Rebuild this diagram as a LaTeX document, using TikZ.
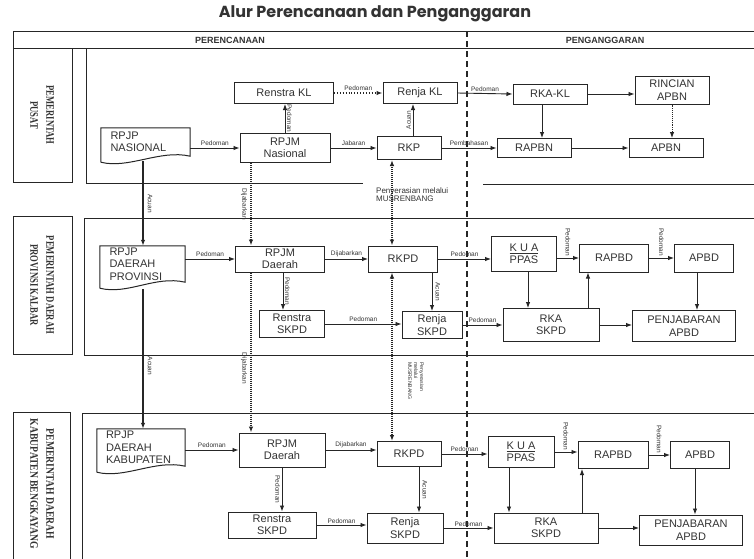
\documentclass[tikz,border=0pt]{standalone}
\usepackage{fontspec}
\setmainfont{Liberation Sans}
\newfontfamily\titlefont{Poppins}
\newfontfamily\rowfont[FakeStretch=0.75]{Liberation Serif}
\usetikzlibrary{arrows.meta,calc}
\definecolor{ink}{HTML}{262626}
\definecolor{txt}{HTML}{333333}
\newcommand\mydocshape[1]{%
  \draw[frame] ($(#1.south west)+(0,6)$) -- (#1.north west) -- (#1.north east) -- (#1.south east)
    .. controls ($(#1.south east)+(-30,-7)$) and ($(#1.south west)+(28,13)$) .. ($(#1.south west)+(0,6)$);}
\begin{document}
\begin{tikzpicture}[x=1pt,y=-1pt,
  frame/.style={draw=ink,line width=1pt},
  box/.style={draw=ink,line width=1pt,rectangle,inner sep=1pt,align=center,text=txt,font=\fontsize{11}{12.5}\selectfont},
  docbox/.style={draw=none,rectangle,inner sep=0pt,align=left,text=txt,font=\fontsize{11}{12.5}\selectfont},
  arr/.style={draw=ink,line width=0.9pt,-{Latex[length=6pt,width=4.5pt]}},
  thickarr/.style={arr,line width=1.7pt},
  darr/.style={arr,line width=1.7pt,dash pattern=on 1pt off 1pt},
  ddarr/.style={darr,{Latex[length=6pt,width=4.5pt]}-{Latex[length=6pt,width=4.5pt]}},
  lab/.style={font=\fontsize{6.5}{7}\selectfont,text=txt,inner sep=1.5pt},
  rowlab/.style={font=\rowfont\bfseries\fontsize{11.5}{16}\selectfont,text=txt,align=center,rotate=-90},
  hdr/.style={font=\bfseries\fontsize{9}{10}\selectfont,text=txt},
]
\useasboundingbox (0,0) rectangle (754,558);
\fill[white] (0,0) rectangle (754,558);

% title and header
\node[font=\titlefont\bfseries\fontsize{16}{18}\selectfont,text=txt] (title) at (375,14) {Alur Perencanaan dan Penganggaran};
\draw[frame] (754,31) -- (13,31) -- (13,48) -- (754,48);
\node[hdr] (hp) at (230,40) {PERENCANAAN};
\node[hdr] (hg) at (605,40) {PENGANGGARAN};

% row frames
\draw[frame] (13,48) rectangle (72,182);
\draw[frame] (86,48) -- (86,183) -- (363,183);
\draw[frame] (483,184) -- (754,184);
\draw[frame] (13,216) rectangle (72,354);
\draw[frame] (754,218) -- (84,218) -- (84,355) -- (754,355);
\draw[frame] (13,562) -- (13,412) -- (70,412) -- (70,562);
\draw[frame] (754,413) -- (82,413) -- (82,562);

% divider
\draw[ink,line width=2.3pt,dash pattern=on 6pt off 4pt] (467,31) -- (467,558);

% row labels
\node[rowlab] (lab1) at (42,115) {PEMERINTAH\\PUSAT};
\node[rowlab] (lab2) at (42,285) {PEMERINTAH DAERAH\\PROVINSI KALBAR};
\node[rowlab,xscale=1.12] (lab3) at (42,484) {PEMERINTAH DAERAH\\KABUPATEN BENGKAYANG};

% ---------- row 1 ----------
\node[box,minimum width=99pt,minimum height=21pt] (renstrakl) at (284,93) {Renstra KL};
\node[docbox,minimum width=89pt,minimum height=28pt,text width=70pt] (rpjpnas) at (145.5,142) {RPJP\\NASIONAL};
\mydocshape{rpjpnas}
\node[box,minimum width=90pt,minimum height=29pt] (rpjmnas) at (285,148) {RPJM\\Nasional};
\node[box,minimum width=74pt,minimum height=21pt] (renjakl) at (420,93) {Renja KL};
\node[box,minimum width=64pt,minimum height=23pt] (rkp) at (409,148) {RKP};
\node[box,minimum width=74pt,minimum height=20pt] (rkakl) at (550,94) {RKA-KL};
\node[box,minimum width=74pt,minimum height=28pt] (rincian) at (672,90) {RINCIAN\\APBN};
\node[box,minimum width=74pt,minimum height=19pt] (rapbn) at (534,148) {RAPBN};
\node[box,minimum width=74pt,minimum height=19pt] (apbn) at (666,148) {APBN};

\draw[arr] (rpjpnas.east |- rpjmnas.west) -- node[lab,above] (l1) {Pedoman} (rpjmnas.west);
\draw[arr] (rpjmnas.north) -- node[lab,rotate=-90,anchor=south] (l2) {Pedoman} (rpjmnas.north |- renstrakl.south);
\draw[arr,dotted,line width=1.3pt] (renstrakl.east) -- node[lab,above] (l3) {Pedoman} (renjakl.west);
\draw[arr] (rpjmnas.east) -- node[lab,above] (l4) {Jabaran} (rkp.west);
\draw[arr] ([xshift=4pt]rkp.north) -- node[lab,rotate=90,anchor=south] (l5) {Acuan} ([xshift=4pt]rkp.north |- renjakl.south);
\draw[arr] (renjakl.east) -- node[lab,above] (l6) {Pedoman} (rkakl.west);
\draw[arr] (rkp.east) -- node[lab,above] (l7) {Pembahasan} (rapbn.west);
\draw[arr] (rkakl.east) -- (rkakl.east -| rincian.west);
\draw[arr] ([xshift=-8pt]rkakl.south) -- ([xshift=-8pt]rkakl.south |- rapbn.north);
\draw[arr] (rapbn.east) -- (apbn.west);
\draw[arr,densely dotted] (rincian.south) -- (rincian.south |- apbn.north);
\node[anchor=north west,align=left,text=txt,font=\fontsize{8}{8.5}\selectfont,inner sep=0pt] (musr1) at (376,187) {Penyerasian melalui\\MUSRENBANG};

% ---------- row 2 ----------
\node[docbox,minimum width=85pt,minimum height=36pt,text width=66pt] (rpjpprov) at (142.5,264) {RPJP\\DAERAH\\PROVINSI};
\mydocshape{rpjpprov}
\node[box,minimum width=89pt,minimum height=26pt] (rpjmd2) at (280,259) {RPJM\\Daerah};
\node[box,minimum width=69pt,minimum height=26pt] (rkpd2) at (403,259) {RKPD};
\node[box,minimum width=65pt,minimum height=27pt] (renstra2) at (292,324) {Renstra\\SKPD};
\node[box,minimum width=60pt,minimum height=27pt] (renja2) at (432,325) {Renja\\SKPD};
\node[box,minimum width=65pt,minimum height=35pt] (kua2) at (524,254) {\underline{K U A}\\PPAS};
\node[box,minimum width=69pt,minimum height=28pt] (rapbd2) at (614,258) {RAPBD};
\node[box,minimum width=59pt,minimum height=28pt] (apbd2) at (704,258) {APBD};
\node[box,minimum width=96pt,minimum height=33pt] (rka2) at (551,325) {RKA\\SKPD};
\node[box,minimum width=103pt,minimum height=31pt] (penj2) at (684,326) {PENJABARAN\\APBD};

\coordinate (nasb) at (143,161);
\draw[thickarr] (nasb) -- node[lab,rotate=-90,anchor=south,inner sep=4pt] (l8) {Acuan} (nasb |- rpjpprov.north);
\draw[darr] ([xshift=-34pt]rpjmnas.south) -- node[lab,rotate=-90,anchor=north,inner sep=3pt] (l9) {Dijabarkan} ([xshift=-34pt]rpjmnas.south |- rpjmd2.north);
\draw[ddarr] ([xshift=-17pt]rkp.south) -- ([xshift=-17pt]rkp.south |- rkpd2.north);

\draw[arr] (rpjpprov.east |- rpjmd2.west) -- node[lab,above] (l10) {Pedoman} (rpjmd2.west);
\draw[arr] (rpjmd2.east) -- node[lab,above] (l11) {Dijabarkan} (rkpd2.west);
\draw[arr] ([xshift=3pt]rpjmd2.south) -- node[lab,rotate=-90,anchor=south] (l12) {Pedoman} ([xshift=3pt]rpjmd2.south |- renstra2.north);
\draw[arr] (renstra2.east) -- node[lab,above] (l13) {Pedoman} (renstra2.east -| renja2.west);
\draw[arr] ([xshift=29pt]rkpd2.south) -- node[lab,rotate=-90,anchor=south,inner sep=3pt] (l14) {Acuan} ([xshift=29pt]rkpd2.south |- renja2.north);
\draw[arr] (rkpd2.east) -- node[lab,above] (l15) {Pedoman} (rkpd2.east -| kua2.west);
\draw[arr] (renja2.east) -- node[lab,above] (l16) {Pedoman} (renja2.east -| rka2.west);
\draw[arr] (kua2.east |- rapbd2.west) -- node[lab,rotate=-90,anchor=east] (l17) {Pedoman} (rapbd2.west);
\draw[arr] (rapbd2.east) -- node[lab,rotate=-90,anchor=east] (l18) {Pedoman} (apbd2.west);
\draw[arr] ([xshift=4pt]kua2.south) -- ([xshift=4pt]kua2.south |- rka2.north);
\draw[arr] ([xshift=-26pt]rapbd2.south |- rka2.north) -- ([xshift=-26pt]rapbd2.south);
\draw[arr] (rka2.east) -- (rka2.east -| penj2.west);
\draw[arr] ([xshift=-7pt]apbd2.south) -- ([xshift=-7pt]apbd2.south |- penj2.north);

% ---------- row 3 ----------
\node[docbox,minimum width=88pt,minimum height=37pt,text width=70pt] (rpjpkab) at (141,447.5) {RPJP\\DAERAH\\KABUPATEN};
\mydocshape{rpjpkab}
\node[box,minimum width=86pt,minimum height=34pt] (rpjmd3) at (282,450) {RPJM\\Daerah};
\node[box,minimum width=64pt,minimum height=25pt] (rkpd3) at (409,454) {RKPD};
\node[box,minimum width=88pt,minimum height=26pt] (renstra3) at (272,525) {Renstra\\SKPD};
\node[box,minimum width=76pt,minimum height=30pt] (renja3) at (405,528) {Renja\\SKPD};
\node[box,minimum width=66pt,minimum height=31pt] (kua3) at (521,452) {\underline{K U A}\\PPAS};
\node[box,minimum width=70pt,minimum height=27pt] (rapbd3) at (613,455) {RAPBD};
\node[box,minimum width=59pt,minimum height=27pt] (apbd3) at (700,455) {APBD};
\node[box,minimum width=104pt,minimum height=30pt] (rka3) at (546,528) {RKA\\SKPD};
\node[box,minimum width=103pt,minimum height=30pt] (penj3) at (691,530) {PENJABARAN\\APBD};

\coordinate (provb) at (143,289);
\draw[thickarr] (provb) -- node[lab,rotate=-90,anchor=south,inner sep=4pt,pos=0.55] (l19) {Acuan} (provb |- rpjpkab.north);
\draw[darr] ([xshift=-29pt]rpjmd2.south) -- node[lab,rotate=-90,anchor=north,inner sep=3pt,pos=0.6] (l20) {Dijabarkan} ([xshift=-29pt]rpjmd2.south |- rpjmd3.north);
\draw[ddarr] ([xshift=-11pt]rkpd2.south) -- ([xshift=-11pt]rkpd2.south |- rkpd3.north);
\node[rotate=-90,align=left,text=txt,font=\fontsize{5.2}{6}\selectfont,inner sep=0pt] (musr2) at (416,381) {Penyerasian\\melalui\\MUSRENBANG};

\draw[arr] (rpjpkab.east |- rpjmd3.west) -- node[lab,above] (l21) {Pedoman} (rpjmd3.west);
\draw[arr] (rpjmd3.east) -- node[lab,above] (l22) {Dijabarkan} (rpjmd3.east -| rkpd3.west);
\draw[arr] (rpjmd3.south) -- node[lab,rotate=-90,anchor=north] (l23) {Pedoman} (rpjmd3.south |- renstra3.north);
\draw[arr] (renstra3.east) -- node[lab,above] (l24) {Pedoman} (renstra3.east -| renja3.west);
\draw[arr] ([xshift=10pt]rkpd3.south) -- node[lab,rotate=-90,anchor=south,inner sep=3pt] (l25) {Acuan} ([xshift=10pt]rkpd3.south |- renja3.north);
\draw[arr] (rkpd3.east) -- node[lab,above] (l26) {Pedoman} (rkpd3.east -| kua3.west);
\draw[arr] (renja3.east) -- node[lab,above] (l27) {Pedoman} (renja3.east -| rka3.west);
\draw[arr] (kua3.east) -- node[lab,rotate=-90,anchor=east] (l28) {Pedoman} (kua3.east -| rapbd3.west);
\draw[arr] (rapbd3.east) -- node[lab,rotate=-90,anchor=east] (l29) {Pedoman} (apbd3.west);
\draw[arr] ([xshift=-12pt]kua3.south) -- ([xshift=-12pt]kua3.south |- rka3.north);
\draw[arr] ([xshift=-31pt]rapbd3.south |- rka3.north) -- ([xshift=-31pt]rapbd3.south);
\draw[arr] (rka3.east) -- (rka3.east -| penj3.west);
\draw[arr] ([xshift=-5pt]apbd3.south) -- ([xshift=-5pt]apbd3.south |- penj3.north);
\end{tikzpicture}
\end{document}
